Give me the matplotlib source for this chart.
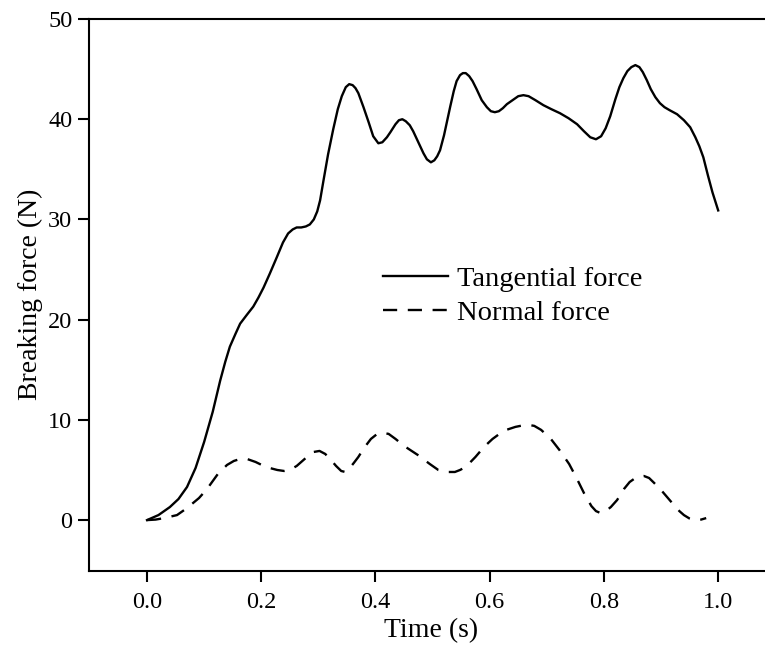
import matplotlib
matplotlib.use("Agg")
import matplotlib.pyplot as plt

plt.rcParams['font.family'] = ['Liberation Serif', 'DejaVu Serif']

# Tangential force (N) vs time (s)
t_tan = [0.0, 0.02, 0.04, 0.055, 0.07, 0.085, 0.1, 0.115, 0.128, 0.137, 0.145,
         0.155, 0.163, 0.175, 0.186, 0.195, 0.204, 0.215, 0.227, 0.238, 0.247,
         0.255, 0.262, 0.27, 0.278, 0.285, 0.292, 0.298, 0.303, 0.309, 0.317,
         0.326, 0.334, 0.341, 0.348, 0.354, 0.36, 0.365, 0.37, 0.379, 0.388,
         0.396, 0.405, 0.412, 0.42, 0.426, 0.435, 0.441, 0.447, 0.453, 0.46,
         0.466, 0.475, 0.484, 0.49, 0.497, 0.503, 0.508, 0.513, 0.52, 0.531,
         0.537, 0.542, 0.548, 0.553, 0.558, 0.564, 0.57, 0.577, 0.586, 0.595,
         0.602, 0.609, 0.616, 0.623, 0.63, 0.64, 0.65, 0.659, 0.668, 0.68,
         0.694, 0.708, 0.723, 0.738, 0.753, 0.765, 0.776, 0.786, 0.795, 0.803,
         0.811, 0.82, 0.827, 0.834, 0.841, 0.848, 0.855, 0.862, 0.868, 0.875,
         0.882, 0.89, 0.898, 0.906, 0.915, 0.928, 0.94, 0.951, 0.96, 0.967,
         0.974, 0.982, 0.99, 1.0]
f_tan = [0.0, 0.5, 1.3, 2.1, 3.3, 5.2, 7.8, 10.8, 13.9, 15.8, 17.3,
         18.6, 19.6, 20.5, 21.3, 22.2, 23.2, 24.6, 26.2, 27.7, 28.6,
         29.0, 29.2, 29.2, 29.3, 29.5, 30.0, 30.8, 31.9, 33.9, 36.5,
         39.0, 41.0, 42.3, 43.2, 43.5, 43.4, 43.1, 42.6, 41.2, 39.7,
         38.3, 37.6, 37.7, 38.2, 38.7, 39.5, 39.9, 40.0, 39.8, 39.4,
         38.8, 37.7, 36.6, 36.0, 35.7, 35.9, 36.3, 36.9, 38.4, 41.3,
         42.8, 43.8, 44.4, 44.6, 44.6, 44.3, 43.8, 43.0, 41.9, 41.2,
         40.8, 40.7, 40.8, 41.1, 41.5, 41.9, 42.3, 42.4, 42.3, 41.9,
         41.4, 41.0, 40.6, 40.1, 39.5, 38.8, 38.2, 38.0, 38.3, 39.1,
         40.3, 42.0, 43.2, 44.1, 44.8, 45.2, 45.4, 45.2, 44.7, 43.9,
         43.0, 42.2, 41.6, 41.2, 40.9, 40.5, 39.9, 39.2, 38.2, 37.3,
         36.2, 34.4, 32.7, 30.9]

# Normal force (N) vs time (s)
t_nor = [0.0, 0.015, 0.03, 0.0525, 0.07, 0.091, 0.105, 0.124, 0.14, 0.152,
         0.163, 0.175, 0.19, 0.208, 0.228, 0.24, 0.25, 0.262, 0.278, 0.292,
         0.302, 0.312, 0.322, 0.331, 0.34, 0.347, 0.355, 0.362, 0.37, 0.38,
         0.392, 0.403, 0.413, 0.423, 0.435, 0.45, 0.474, 0.495, 0.51, 0.525,
         0.539, 0.548, 0.558, 0.575, 0.59, 0.605, 0.617, 0.629, 0.645, 0.658,
         0.668, 0.678, 0.69, 0.707, 0.722, 0.739, 0.752, 0.765, 0.778, 0.786,
         0.794, 0.803, 0.812, 0.823, 0.835, 0.845, 0.855, 0.862, 0.87, 0.879,
         0.888, 0.9, 0.912, 0.921, 0.932, 0.94, 0.95, 0.957, 0.963, 0.97, 0.979]
f_nor = [0.0, 0.05, 0.2, 0.5, 1.2, 2.2, 3.1, 4.6, 5.5, 5.9,
         6.1, 6.1, 5.8, 5.3, 5.0, 4.9, 5.0, 5.4, 6.2, 6.8,
         6.9, 6.6, 6.0, 5.4, 4.9, 4.8, 5.2, 5.7, 6.3, 7.2,
         8.1, 8.6, 8.7, 8.6, 8.1, 7.4, 6.5, 5.6, 5.0, 4.8,
         4.8, 5.0, 5.3, 6.3, 7.3, 8.1, 8.6, 9.0, 9.3, 9.45,
         9.5, 9.4, 9.0, 8.1, 7.0, 5.6, 4.2, 2.7, 1.4, 0.9,
         0.7, 0.9, 1.3, 2.0, 3.1, 3.8, 4.2, 4.35, 4.4, 4.2,
         3.7, 3.0, 2.2, 1.6, 0.9, 0.5, 0.15, 0.0, 0.0, 0.05, 0.2]

series_labels = ["Tangential force", "Normal force"]
x_ticks = [0.0, 0.2, 0.4, 0.6, 0.8, 1.0]
x_tick_labels = ["0.0", "0.2", "0.4", "0.6", "0.8", "1.0"]
y_ticks = [0, 10, 20, 30, 40, 50]

W, H = 765, 646
fig = plt.figure(figsize=(W / 100, H / 100), dpi=100)
ax = fig.add_axes([89 / W, 1 - 571 / H, (W - 89) / W + 0.01, (571 - 18.5) / H])

ax.plot(t_tan, f_tan, color='black', lw=1.7, solid_joinstyle='round',
        label=series_labels[0])
ax.plot(t_nor, f_nor, color='black', lw=1.7, linestyle=(0, (6, 4.5)),
        dash_joinstyle='round', label=series_labels[1])

ax.set_xlim(-0.1016, 1.082 + 0.01 * W / (W - 89) * 1.18)
ax.set_ylim(-5.08, 50.05)
ax.set_xticks(x_ticks)
ax.set_xticklabels(x_tick_labels)
ax.set_yticks(y_ticks)

for side in ['left', 'bottom', 'top']:
    ax.spines[side].set_linewidth(1.5)
ax.spines['right'].set_visible(False)
ax.tick_params(axis='both', direction='out', length=8, width=1.5,
               labelsize=17.5)
ax.tick_params(axis='x', pad=7)
ax.tick_params(axis='y', pad=4)
ax.tick_params(top=False, right=False)

ax.set_xlabel("Time (s)", fontsize=20, labelpad=4)
ax.set_ylabel("Breaking force (N)", fontsize=20, labelpad=4)

leg = ax.legend(loc='upper left', bbox_to_anchor=(383 / W, 1 - 266 / H),
                bbox_transform=fig.transFigure, frameon=False, fontsize=20.5,
                handlelength=2.3, handletextpad=0.3, labelspacing=0.3,
                borderpad=0, borderaxespad=0)

fig.savefig("out.png", dpi=100)
